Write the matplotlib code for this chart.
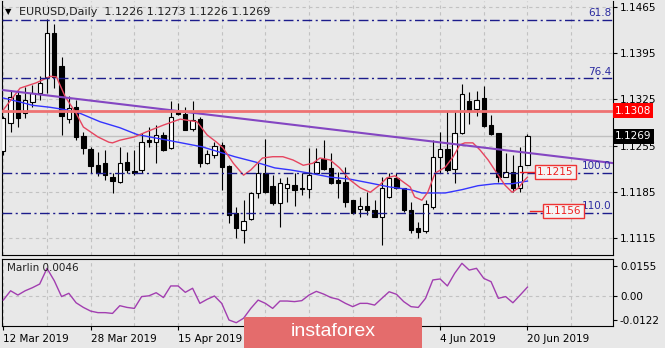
import numpy as np
import matplotlib.pyplot as plt
from matplotlib.patches import FancyBboxPatch

# EURUSD daily bars, 12 Mar 2019 .. 20 Jun 2019
opens = [1.1247, 1.1289, 1.1332, 1.1304, 1.1321, 1.1335, 1.1359, 1.1426, 1.1376, 1.1295,
         1.1313, 1.1269, 1.1250, 1.1225, 1.1228, 1.1207, 1.1200, 1.1230, 1.1217, 1.1218,
         1.1264, 1.1260, 1.1271, 1.1251, 1.1306, 1.1303, 1.1280, 1.1295, 1.1228, 1.1241,
         1.1256, 1.1224, 1.1153, 1.1127, 1.1143, 1.1183, 1.1213, 1.1194, 1.1168, 1.1191,
         1.1195, 1.1190, 1.1189, 1.1213, 1.1234, 1.1221, 1.1203, 1.1200, 1.1172, 1.1159,
         1.1163, 1.1157, 1.1147, 1.1177, 1.1206, 1.1191, 1.1157, 1.1130, 1.1125, 1.1162,
         1.1238, 1.1250, 1.1219, 1.1274, 1.1322, 1.1310, 1.1327, 1.1286, 1.1274, 1.1207,
         1.1215, 1.1191, 1.1226]
highs = [1.1300, 1.1339, 1.1339, 1.1344, 1.1347, 1.1360, 1.1447, 1.1439, 1.1389, 1.1330,
         1.1324, 1.1275, 1.1252, 1.1245, 1.1248, 1.1213, 1.1253, 1.1245, 1.1248, 1.1274,
         1.1283, 1.1286, 1.1275, 1.1322, 1.1319, 1.1313, 1.1322, 1.1298, 1.1248, 1.1260,
         1.1260, 1.1225, 1.1162, 1.1172, 1.1184, 1.1228, 1.1265, 1.1210, 1.1206, 1.1207,
         1.1213, 1.1213, 1.1251, 1.1251, 1.1263, 1.1244, 1.1215, 1.1222, 1.1173, 1.1177,
         1.1184, 1.1172, 1.1207, 1.1213, 1.1213, 1.1191, 1.1169, 1.1139, 1.1172, 1.1263,
         1.1275, 1.1307, 1.1307, 1.1348, 1.1336, 1.1338, 1.1345, 1.1301, 1.1274, 1.1244,
         1.1241, 1.1253, 1.1273]
lows = [1.1240, 1.1275, 1.1283, 1.1297, 1.1313, 1.1324, 1.1335, 1.1342, 1.1271, 1.1289,
        1.1263, 1.1242, 1.1213, 1.1209, 1.1203, 1.1183, 1.1198, 1.1213, 1.1211, 1.1213,
        1.1253, 1.1228, 1.1247, 1.1250, 1.1301, 1.1278, 1.1277, 1.1222, 1.1227, 1.1236,
        1.1187, 1.1137, 1.1115, 1.1107, 1.1142, 1.1175, 1.1183, 1.1165, 1.1131, 1.1169,
        1.1163, 1.1180, 1.1175, 1.1212, 1.1218, 1.1197, 1.1175, 1.1162, 1.1151, 1.1147,
        1.1150, 1.1146, 1.1104, 1.1176, 1.1189, 1.1154, 1.1122, 1.1115, 1.1122, 1.1159,
        1.1213, 1.1215, 1.1198, 1.1273, 1.1288, 1.1300, 1.1283, 1.1271, 1.1200, 1.1207,
        1.1184, 1.1184, 1.1226]
closes = [1.1296, 1.1329, 1.1297, 1.1324, 1.1335, 1.1350, 1.1426, 1.1359, 1.1300, 1.1312,
          1.1268, 1.1251, 1.1224, 1.1213, 1.1210, 1.1201, 1.1228, 1.1218, 1.1213, 1.1260,
          1.1261, 1.1271, 1.1248, 1.1298, 1.1303, 1.1279, 1.1294, 1.1228, 1.1242, 1.1254,
          1.1222, 1.1150, 1.1130, 1.1140, 1.1183, 1.1213, 1.1184, 1.1168, 1.1198, 1.1197,
          1.1188, 1.1189, 1.1210, 1.1230, 1.1219, 1.1198, 1.1198, 1.1169, 1.1153, 1.1163,
          1.1157, 1.1147, 1.1191, 1.1206, 1.1191, 1.1157, 1.1127, 1.1124, 1.1166, 1.1238,
          1.1250, 1.1218, 1.1274, 1.1333, 1.1307, 1.1324, 1.1285, 1.1272, 1.1207, 1.1215,
          1.1191, 1.1224, 1.1269]

# moving averages (bar index, price)
ma_fast_x = [0, 2.3, 4.5, 6.5, 7.3, 8.5, 10, 11, 13, 14.5, 15, 16, 18, 19.5, 22, 24.3,
             26.6, 28, 29.3, 30.2, 31.6, 33, 34, 35.6, 37, 38.4, 39.8, 41.2, 42.5, 43.5,
             44.9, 46.2, 47.6, 49, 50.4, 51.7, 52.7, 53.8, 54.9, 55.9, 56.5, 57.5, 58.3,
             59.3, 60.7, 61.8, 62.7, 63.4, 64.5, 65.5, 66.6, 67.8, 68.9, 69.9, 70.8, 71.4, 72]
ma_fast_y = [1.1309, 1.1342, 1.1350, 1.1360, 1.1359, 1.1329, 1.1304, 1.1283, 1.1268, 1.1260,
             1.1259, 1.1263, 1.1268, 1.1275, 1.1286, 1.1295, 1.1291, 1.1271, 1.1260, 1.1251,
             1.1228, 1.1210, 1.1218, 1.1236, 1.1238, 1.1238, 1.1233, 1.1225, 1.1228, 1.1236,
             1.1233, 1.1221, 1.1203, 1.1191, 1.1184, 1.1195, 1.1206, 1.1209, 1.1200, 1.1192,
             1.1177, 1.1172, 1.1184, 1.1213, 1.1222, 1.1238, 1.1256, 1.1259, 1.1259, 1.1248,
             1.1233, 1.1213, 1.1195, 1.1184, 1.1191, 1.1200, 1.1207]
ma_slow_x = [0, 2.3, 4, 6.4, 8.7, 10.5, 13.3, 16, 18.3, 20.1, 22.6, 27.3, 31.8, 34.6, 37.3,
             39.4, 42.1, 44.9, 47.6, 50.4, 53.1, 55.9, 57.5, 60.7, 63, 65.2, 67.5, 69.9, 71.4, 72]
ma_slow_y = [1.1327, 1.1321, 1.1316, 1.1313, 1.1309, 1.1304, 1.1291, 1.1282, 1.1272, 1.1268,
             1.1263, 1.1253, 1.1238, 1.1230, 1.1221, 1.1218, 1.1213, 1.1207, 1.1204, 1.1198,
             1.1192, 1.1188, 1.1183, 1.1183, 1.1188, 1.1194, 1.1197, 1.1197, 1.1200, 1.1201]

marlin = [-0.0021, 0.0027, 0.0005, 0.0027, 0.0043, 0.0062, 0.0143, 0.0079, -0.0003, 0.0014,
          -0.0035, -0.0059, -0.0078, -0.0086, -0.0086, -0.0090, -0.0050, -0.0059, -0.0064, -0.0003,
          0.0001, 0.0017, -0.0008, 0.0052, 0.0052, 0.0019, 0.0040, -0.0038, -0.0017, 0.0000,
          -0.0038, -0.0124, -0.0138, -0.0115, -0.0064, -0.0021, -0.0038, -0.0064, -0.0026, -0.0026,
          -0.0029, -0.0024, 0.0005, 0.0024, 0.0010, -0.0008, -0.0017, -0.0038, -0.0055, -0.0038,
          -0.0038, -0.0047, -0.0012, 0.0022, 0.0009, -0.0029, -0.0055, -0.0059, -0.0012, 0.0083,
          0.0088, 0.0052, 0.0117, 0.0169, 0.0134, 0.0143, 0.0091, 0.0074, -0.0012, -0.0003,
          -0.0035, 0.0005, 0.0046]

trend_x = [0, 84]
trend_y = [1.1339, 1.1228]
resistance = 1.1308
last_price = 1.1269
fib_levels = ["61.8", "76.4", "100.0", "110.0"]
fib_prices = [1.1446, 1.1357, 1.1214, 1.1153]
marks = [1.1215, 1.1156]

price_ticks = [1.1465, 1.1395, 1.1325, 1.1255, 1.1185, 1.1115]
# the 1 May / 17 May labels sit under the logo strip, so they stay blank
date_pos = [0, 12, 24, 36, 48, 60, 72]
date_labels = ["12 Mar 2019", "28 Mar 2019", "15 Apr 2019", "",
               "", "4 Jun 2019", "20 Jun 2019"]

bg = '#e8e8e8'
grid_c = '#c2c2c2'
fib_c = '#1c1c8c'
fs = 7.5
plt.rcParams['font.family'] = ['DejaVu Sans']

W, H = 665, 348
fig = plt.figure(figsize=(W / 100, H / 100), dpi=100, facecolor=bg)
ax = fig.add_axes([2 / W, 93 / H, 611 / W, 254 / H], facecolor=bg)
ax2 = fig.add_axes([2 / W, 22 / H, 611 / W, 67.5 / H], facecolor=bg)

x = np.arange(len(opens))
o, hi, lo, c = map(np.array, (opens, highs, lows, closes))
xmax = 83.75

# grid
for a in (ax, ax2):
    for g in range(0, 90, 6):
        a.axvline(g, color=grid_c, lw=0.8, ls=(0, (3, 3)), zorder=0)
for p in price_ticks:
    ax.axhline(p, color=grid_c, lw=0.8, ls=(0, (3, 3)), zorder=0)
ax2.axhline(0, color=grid_c, lw=0.8, ls=(0, (3, 3)), zorder=0)

ax.axhline(last_price, color='#c0c0c0', lw=1, zorder=1)

# candles
up = c >= o
ax.vlines(x, lo, hi, color='black', lw=0.8, zorder=3)
body_lo = np.minimum(o, c)
body_h = np.maximum(np.abs(c - o), 0.00003)
ax.bar(x[up], body_h[up], 0.6, bottom=body_lo[up], color='white', edgecolor='black', lw=0.8, zorder=4)
ax.bar(x[~up], body_h[~up], 0.6, bottom=body_lo[~up], color='black', edgecolor='black', lw=0.8, zorder=4)

# indicators and objects
ax.plot(ma_slow_x, ma_slow_y, color='#3434ff', lw=1, zorder=5)
ax.plot(ma_fast_x, ma_fast_y, color='#e6455f', lw=1, zorder=5)
ax.plot(trend_x, trend_y, color='#8446c2', lw=1.5, zorder=6)
ax.axhline(resistance, color='#ee7272', lw=2, zorder=6)
for lvl, p in zip(fib_levels, fib_prices):
    ax.axhline(p, color=fib_c, lw=1, dashes=(7, 2.5, 1.5, 2.5), zorder=6)
    ax.text(xmax - 0.2, p + 0.0002, lvl, color='#2a2aa0', fontsize=fs, ha='right', va='bottom', zorder=7)

# price marks with leader lines
lead = [(71.0, 73.0), (72.4, 74.1)]
for p, (x0, x1) in zip(marks, lead):
    ax.plot([x0, x1], [p, p], color='#ee2222', lw=1, zorder=7)
    ax.text(x1 + 0.35, p, f"{p:.4f}", color='#ee2222', fontsize=fs, ha='left', va='center', zorder=8,
            bbox=dict(boxstyle='square,pad=0.2', fc='#f4f4f4', ec='#ee3333', lw=1))

ax.set_xlim(-0.18, xmax)
ax.set_ylim(1.10889, 1.14742)
ax.yaxis.tick_right()
ax.set_yticks(price_ticks, [f"{p:.4f}" for p in price_ticks])
ax.tick_params(axis='y', length=3, width=0.8, labelsize=fs, pad=2)
ax.tick_params(axis='x', bottom=False, labelbottom=False)
ax.spines['top'].set_visible(False)
for s in ('left', 'right', 'bottom'):
    ax.spines[s].set_linewidth(0.8)

# right-hand price boxes
ytrans = ax.get_yaxis_transform()
ax.text(1.003, resistance, f"{resistance:.4f}", transform=ytrans, color='white', fontsize=fs,
        ha='left', va='center', zorder=9, clip_on=False,
        bbox=dict(boxstyle='square,pad=0.22', fc='#ff0000', ec='none'))
ax.text(1.003, last_price, f"{last_price:.4f}", transform=ytrans, color='white', fontsize=fs,
        ha='left', va='center', zorder=9, clip_on=False,
        bbox=dict(boxstyle='square,pad=0.22', fc='black', ec='none'))

fig.text(5 / W, 1 - 12 / H, "\u25bc", fontsize=6, va='center', ha='left')
fig.text(19 / W, 1 - 12 / H, "EURUSD,Daily  1.1226 1.1273 1.1226 1.1269", fontsize=fs + 0.5,
         va='center', ha='left', color='#202020')

# Marlin oscillator
ax2.plot(x, marlin, color='#a23eb0', lw=1, zorder=3)
ax2.set_xlim(-0.18, xmax)
ax2.set_ylim(-0.0155, 0.01938)
ax2.yaxis.tick_right()
ax2.set_yticks([0.0155, 0.0, -0.0122], ["0.0155", "0.00", "-0.0122"])
ax2.tick_params(axis='y', length=3, width=0.8, labelsize=fs, pad=2)
ax2.set_xticks(date_pos, date_labels)
ax2.tick_params(axis='x', length=3, width=0.8, labelsize=fs, pad=3)
for t in ax2.get_xticklabels():
    t.set_ha('left')
for s in ax2.spines.values():
    s.set_linewidth(0.8)
ax2.text(0.008, 0.86, "Marlin 0.0046", transform=ax2.transAxes, fontsize=fs, va='center', ha='left',
         color='#202020')

# logo strip
fig.patches.append(FancyBboxPatch((244 / W, -0.02), 178 / W, 31 / H + 0.02,
                                  boxstyle='round,pad=0,rounding_size=0.004',
                                  transform=fig.transFigure, fc='#e46c6c', ec='none', zorder=10))
fig.text(333 / W, 1 - 331 / H, "instaforex", fontsize=14, color='white', ha='center', va='center',
         family=['Liberation Sans'], zorder=11)

fig.savefig('out.png', dpi=100, facecolor=bg)
